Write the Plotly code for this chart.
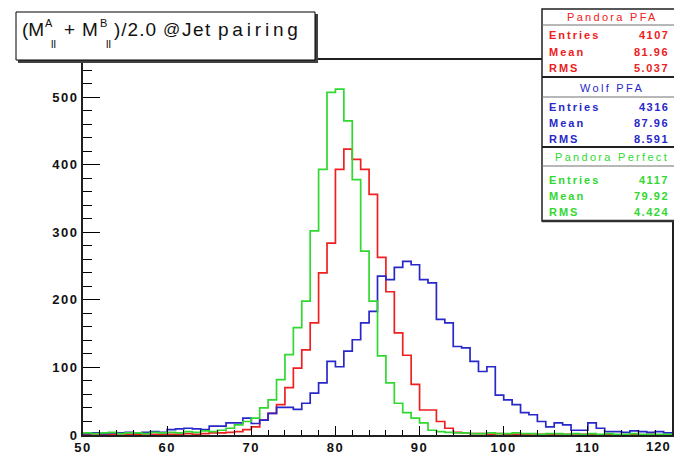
import plotly.graph_objects as go

# ---------------- data ----------------
bin_edges = list(range(50, 121))  # 70 bins of 1 GeV

pandora_pfa = [1, 0, 1, 1, 0, 1, 1, 0, 1, 1,
               1, 1, 2, 1, 2, 3, 3, 4, 5, 8,
               12, 22, 32, 45, 70, 99, 126, 166, 240, 284,
               393, 423, 408, 393, 356, 263, 212, 151, 118, 75,
               37, 37, 20, 10, 4, 3, 2, 2, 1, 2,
               1, 1, 1, 0, 1, 1, 0, 1, 0, 1,
               1, 0, 1, 0, 0, 1, 0, 1, 0, 0]

wolf_pfa = [2, 3, 2, 3, 3, 4, 3, 4, 5, 4,
            8, 9, 10, 9, 8, 13, 13, 18, 18, 25,
            17, 22, 32, 41, 41, 38, 47, 62, 77, 109,
            101, 124, 141, 166, 183, 235, 230, 248, 257, 252,
            230, 225, 171, 166, 131, 129, 109, 94, 101, 59,
            52, 45, 33, 30, 20, 12, 18, 15, 7, 7,
            18, 10, 5, 5, 4, 6, 5, 4, 5, 3]

pandora_perfect = [3, 2, 3, 4, 2, 3, 3, 2, 4, 3,
                   4, 3, 5, 4, 6, 5, 7, 10, 15, 20,
                   25, 40, 52, 82, 119, 159, 198, 302, 393, 507,
                   512, 465, 378, 272, 198, 117, 77, 47, 33, 25,
                   18, 7, 5, 4, 3, 3, 2, 2, 3, 2,
                   2, 3, 2, 2, 1, 2, 2, 1, 2, 1,
                   2, 1, 2, 1, 1, 2, 1, 1, 1, 1]

x_tick_vals = [50, 60, 70, 80, 90, 100, 110, 120]
y_tick_vals = [0, 100, 200, 300, 400, 500]

stat_names = ["Pandora PFA", "Wolf PFA", "Pandora Perfect"]
stat_entries = ["4107", "4316", "4117"]
stat_means = ["81.96", "87.96", "79.92"]
stat_rms = ["5.037", "8.591", "4.424"]

# ---------------- layout helpers ----------------
W, H = 674, 454
L, R, T, B = 83, 2, 60, 19
PW = W - L - R
PH = H - T - B


def px(x):
    return (x - L) / PW


def py(y):
    return (H - B - y) / PH


def ls(text, sp):
    return f'<span style="letter-spacing:{sp}px">{text}</span>'


RED = "#ee2020"
BLUE = "#2828c8"
GREEN = "#30d830"
FONT = "Liberation Sans, Arial, sans-serif"
TICKFONT = dict(family=FONT, size=13, color="#111", weight="bold")

fig = go.Figure()


def add_hist(vals, color, name):
    ys = list(vals) + [vals[-1]]
    fig.add_trace(go.Scatter(x=bin_edges, y=ys, mode="lines", line_shape="hv",
                             line=dict(color=color, width=1.7), name=name,
                             showlegend=False, hoverinfo="skip"))


add_hist(pandora_pfa, RED, stat_names[0])
add_hist(wolf_pfa, BLUE, stat_names[1])
add_hist(pandora_perfect, GREEN, stat_names[2])

# last x label sits at the frame edge: drawn separately, right-aligned inside the picture
x_tick_text = [ls(str(v), 1.5) for v in x_tick_vals]
x_tick_text[-1] = ""

fig.update_xaxes(range=[50, 120], showline=True, linecolor="#202020", linewidth=1.6,
                 mirror=True, ticks="inside", ticklen=9, tickwidth=1.3, tickcolor="black",
                 tickmode="array", tickvals=x_tick_vals, ticktext=x_tick_text,
                 ticklabeloverflow="allow", automargin=False, tickfont=TICKFONT,
                 minor=dict(tick0=50, dtick=2, ticklen=5, ticks="inside",
                            tickcolor="black", tickwidth=1.2, showgrid=False),
                 showgrid=False, zeroline=False)
fig.update_yaxes(range=[0, 555], showline=True, linecolor="#202020", linewidth=1.8,
                 mirror=True, ticks="inside", ticklen=17, tickwidth=1.3, tickcolor="black",
                 tickmode="array", tickvals=y_tick_vals,
                 ticktext=[ls(str(v), 1.5) for v in y_tick_vals],
                 automargin=False, tickfont=TICKFONT,
                 minor=dict(tick0=0, dtick=20, ticklen=9, ticks="inside",
                            tickcolor="black", tickwidth=1.2, showgrid=False),
                 showgrid=False, zeroline=False)

shapes = []
ann = []

ann.append(dict(text=ls(str(x_tick_vals[-1]), 1.0), xref="paper", yref="paper",
                x=px(673), y=py(446), xanchor="right", yanchor="middle",
                showarrow=False, font=TICKFONT))

# ---- title box ----
shapes.append(dict(type="rect", xref="paper", yref="paper", layer="above",
                   x0=px(18), x1=px(318), y0=py(63), y1=py(14),
                   fillcolor="#404040", line=dict(width=0)))
shapes.append(dict(type="rect", xref="paper", yref="paper", layer="above",
                   x0=px(16), x1=px(315), y0=py(60), y1=py(12),
                   fillcolor="white", line=dict(color="black", width=1)))


def tann(text, x, y, size, anchor="left", color="#111", weight="normal"):
    ann.append(dict(text=text, xref="paper", yref="paper", x=px(x), y=py(y),
                    xanchor=anchor, yanchor="middle", showarrow=False,
                    font=dict(family=FONT, size=size, color=color, weight=weight)))


TS = 19
TY = 29
tann("(M", 20, TY, TS)
tann("A", 43, 23, 11)
tann("ll", 49, 44, 11)
tann("+", 62, TY, TS)
tann("M", 80, TY, TS)
tann("B", 98, 23, 11)
tann("ll", 104, 44, 11)
tann(ls(")/2.0", 1), 112, TY, TS)
tann("@", 161, TY, 17)
tann(ls("Jet", 1.5), 180, TY, TS)
tann(ls("pairing", 3.8), 216, TY, TS)

# ---- stats boxes ----
BX0, BX1 = 542, 690
shapes.append(dict(type="rect", xref="paper", yref="paper", layer="above",
                   x0=px(BX0), x1=px(BX1), y0=py(221), y1=py(9),
                   fillcolor="white", line=dict(color="#202020", width=1.5)))
for yy, w, c in [(25, 1, "#707070"), (77, 2.2, "#202020"), (97, 1, "#707070"),
                 (147, 2.2, "#202020"), (166, 1, "#707070"), (221, 2.5, "#303030")]:
    shapes.append(dict(type="line", xref="paper", yref="paper", layer="above",
                       x0=px(BX0), x1=px(BX1), y0=py(yy), y1=py(yy),
                       line=dict(color=c, width=w)))

colors = [RED, BLUE, GREEN]
head_y = [17, 88, 157]
row_y = [[35, 52, 68], [107, 123, 139], [180, 196, 212]]
for i in range(3):
    c = colors[i]
    ann.append(dict(text=ls(stat_names[i], 2.3), xref="paper", yref="paper",
                    x=px(612), y=py(head_y[i]), xanchor="center", yanchor="middle",
                    showarrow=False, font=dict(family=FONT, size=11, color=c)))
    vals = [stat_entries[i], stat_means[i], stat_rms[i]]
    for j, lab in enumerate(["Entries", "Mean", "RMS"]):
        tann(ls(lab, 2), 547, row_y[i][j], 11, "left", c, "bold")
        tann(ls(vals[j], 1.5), 671, row_y[i][j], 11, "right", c, "bold")

fig.update_layout(width=W, height=H, margin=dict(l=L, r=R, t=T, b=B, pad=0, autoexpand=False),
                  paper_bgcolor="white", plot_bgcolor="white",
                  shapes=shapes, annotations=ann, showlegend=False)

fig.write_html("out.html")
